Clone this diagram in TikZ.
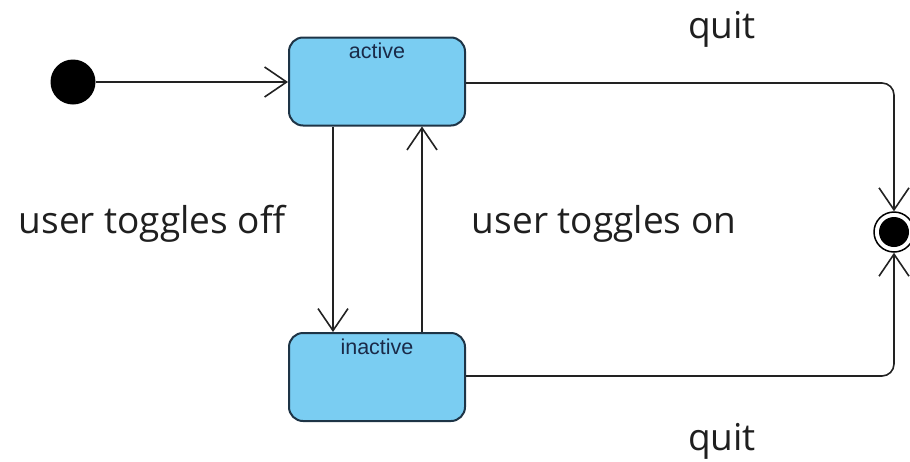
\documentclass[tikz,border=0pt]{standalone}
\usepackage{fontspec}
\setmainfont{Open Sans}
\newfontfamily\statefont{Liberation Sans}
\usetikzlibrary{arrows.meta}
\definecolor{statefill}{HTML}{7ACDF2}
\definecolor{stateborder}{HTML}{1E3446}
\definecolor{statetext}{HTML}{1A2A48}
\definecolor{linegray}{HTML}{222222}
\begin{document}
\begin{tikzpicture}[x=1pt,y=-1pt,
  statebox/.style={draw=stateborder,fill=statefill,line width=2pt,rounded corners=14pt,minimum width=176pt,minimum height=88pt,inner sep=0pt},
  statelabel/.style={font=\statefont\fontsize{21.5}{24}\selectfont,text=statetext,inner sep=0pt},
  trans/.style={draw=linegray,line width=1.6pt,-{Straight Barb[length=22pt,width=30pt,line width=1.6pt]}},
  biglabel/.style={font=\fontsize{37}{42}\selectfont,text=black!88,inner sep=0pt}
]
\useasboundingbox (0,0) rectangle (910,461);
\node[statebox] (active) at (377,81.5) {};
\node[statelabel,anchor=north] (activelbl) at (377,43) {active};
\node[statebox] (inactive) at (377,377) {};
\node[statelabel,anchor=north] (inactivelbl) at (377,339) {inactive};
\node[circle,fill=black,minimum size=45pt,inner sep=0pt] (init) at (73,82) {};
\node[circle,draw=black,line width=1.5pt,minimum size=40pt,inner sep=0pt] (final) at (894,232) {};
\node[circle,fill=black,minimum size=30pt,inner sep=0pt] (finalin) at (894,232) {};
\draw[trans] (init) -- (active.west|-init);
\draw[trans] (active.south-|333,0) -- (inactive.north-|333,0);
\draw[trans] (inactive.north-|422,0) -- (active.south-|422,0);
\draw[trans,rounded corners=12pt] (active.east|-0,83) -| (final.north);
\draw[trans,rounded corners=12pt] (inactive.east|-0,376) -| (final.south);
\node[biglabel,anchor=base] (q1) at (722,38) {quit};
\node[biglabel,anchor=base] (q2) at (722,450) {quit};
\node[biglabel,anchor=base] (off) at (152,233) {user toggles off};
\node[biglabel,anchor=base] (on) at (604,233) {user toggles on};
\end{tikzpicture}
\end{document}
